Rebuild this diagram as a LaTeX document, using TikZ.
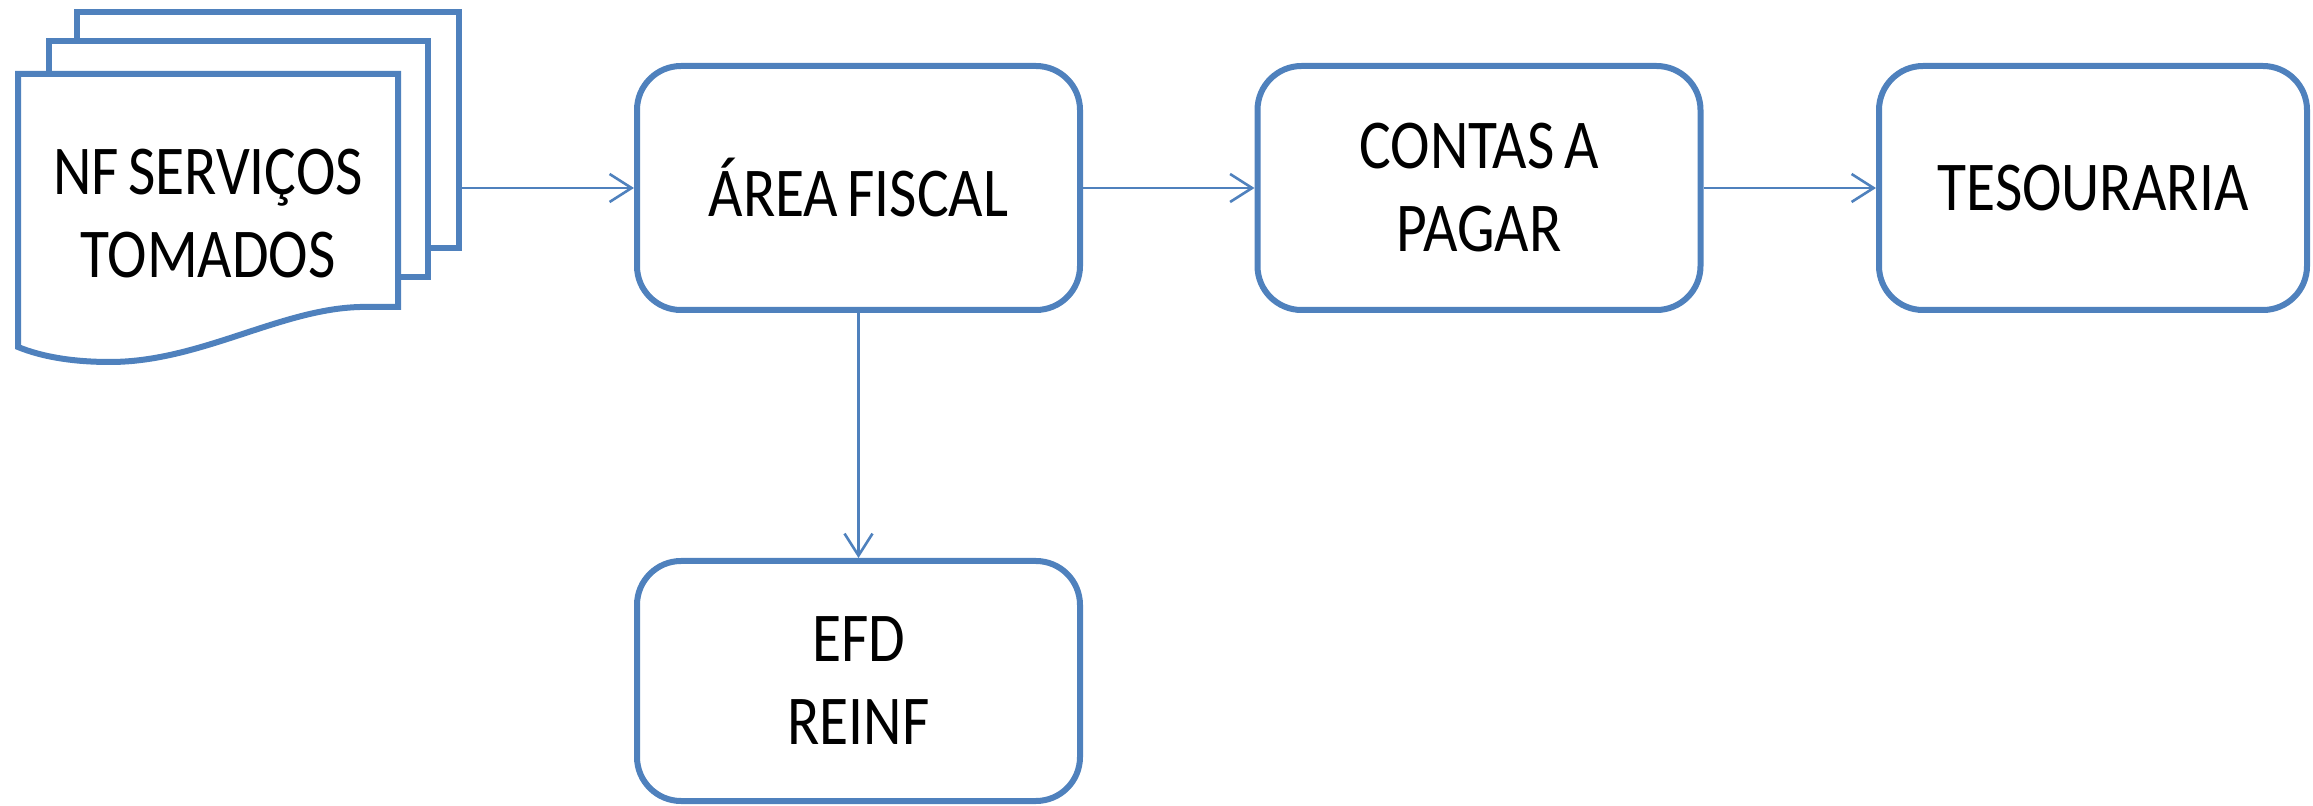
\documentclass[tikz,border=0pt]{standalone}
\usepackage{fontspec}
\setmainfont{Carlito}[FakeStretch=0.85,WordSpace=0.7]
\usetikzlibrary{arrows.meta}
\definecolor{obl}{RGB}{79,129,189}
\begin{document}
\begin{tikzpicture}[x=0.5pt,y=-0.5pt,
  lbl/.style={align=center, inner sep=0pt, font=\fontsize{35}{41.5}\selectfont},
  box/.style={lbl, draw=obl, line width=3pt, rounded corners=22pt, minimum width=221.5pt, minimum height=122pt, fill=white},
  sheet/.style={draw=obl, line width=3pt, fill=white, inner sep=0pt},
  flow/.style={draw=obl, line width=1.3pt, -{Straight Barb[length=11pt,width=14pt,line width=1.3pt]}}]
\useasboundingbox (0,0) rectangle (2313,806);
% document stack
\node[sheet, minimum width=191pt, minimum height=118pt] (back) at (268,130) {};
\node[sheet, minimum width=189.5pt, minimum height=118pt] (mid) at (238.5,159) {};
\draw[sheet] (18,74) -- (398,74) -- (398,307) -- (360,307)
  .. controls (280,309) and (200,362) .. (110,362)
  .. controls (70,362) and (40,356) .. (18,347) -- cycle;
\node[lbl] (nf) at (208,214) {NF SERVIÇOS\\TOMADOS};
% process boxes
\node[box] (area) at (858.5,188) {ÁREA FISCAL};
\node[box] (contas) at (1479,188) {CONTAS A\\PAGAR};
\node[box, minimum width=214pt] (tes) at (2093,188) {TESOURARIA};
\node[box, minimum height=120pt] (efd) at (858.5,681) {EFD\\REINF};
% connectors
\coordinate (docout) at (back.east |- area.west);
\draw[flow] (docout) -- (area.west);
\draw[flow] (area.east) -- (contas.west);
\draw[flow] (contas.east) -- (tes.west);
\draw[flow] (area.south) -- (efd.north);
\end{tikzpicture}
\end{document}
